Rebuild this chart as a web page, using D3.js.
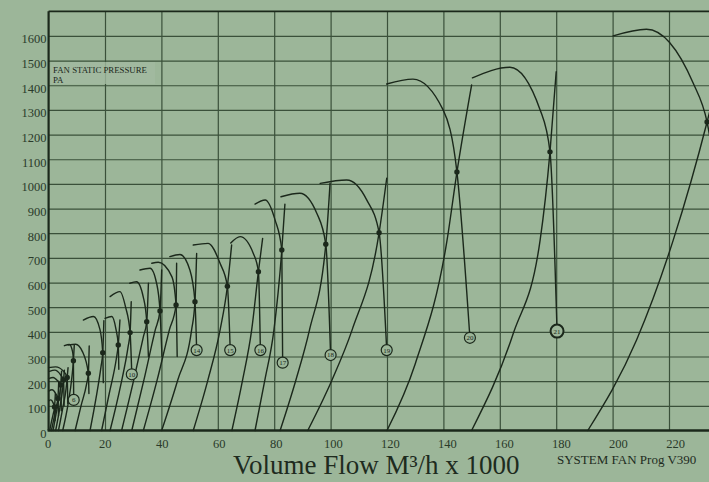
<!DOCTYPE html>
<html><head><meta charset="utf-8">
<script src="https://cdn.jsdelivr.net/npm/d3@7"></script>
<style>html,body{margin:0;padding:0;background:#9cb699;} svg{display:block}</style>
</head><body><svg id="c" width="709" height="482"></svg>
<script>
// ---------- data (flow in m3/h x1000, pressure in Pa) ----------
const xTicks = [0,20,40,60,80,100,120,140,160,180,200,220];
const yTicks = [0,100,200,300,400,500,600,700,800,900,1000,1100,1200,1300,1400,1500,1600];
const fanNo     = [1,2,3,4,5,6,7,8,9,10,11,12,13,14,15,16,17,18,19,20,21,22];
// fan curves: start, peak, knee, operating point, end
const fanStartX = [0.0,0.0,0.0,0.3,0.0,5.6,7.0,12.3,20.0,21.8,28.8,32.4,36.6,43.0,51.3,64.6,73.2,82.4,96.3,119.9,150.3,200.2];
const fanStartP = [120,160,210,240,255,344,347,448,455,543,597,651,678,705,752,760,918,948,1002,1405,1430,1600];
const fanPeakX  = [0.8,1.2,1.6,2.2,2.5,7.4,9.6,15.9,22.4,25.3,31.2,36.0,38.9,46.6,56.6,67.9,76.8,89.1,105.7,129.2,163.6,212.0];
const fanPeakP  = [124,165,215,245,258,349,350,462,462,563,603,658,682,714,759,786,935,962,1016,1425,1473,1627];
const fanKneeX  = [1.6,2.5,3.3,4.3,5.3,8.5,12.0,18.2,23.9,27.3,33.6,38.3,43.7,50.1,60.8,72.6,80.3,95.1,112.8,139.9,174.3,228.6];
const fanKneeP  = [112,150,200,225,240,320,320,410,410,500,540,597,624,651,678,718,854,881,935,1300,1300,1408];
const opX       = [2.1,3.3,4.3,5.3,6.6,8.8,14.1,19.2,24.7,28.9,34.8,39.5,45.2,51.9,63.4,74.4,82.7,98.3,117.2,144.8,177.8,233.5];
const opP       = [95,130,185,205,215,283,232,315,347,397,441,485,509,522,585,644,732,755,802,1048,1130,1251];
const fanEndX   = [2.3,3.5,4.5,5.5,6.8,8.9,14.3,19.4,24.9,29.5,35.4,40.2,45.6,52.5,64.4,75.1,83.0,100.0,119.9,149.4,180.3,240.0];
const fanEndP   = [40,60,80,100,110,124,150,194,248,228,300,300,300,326,326,326,275,306,326,376,403,700];
// system curves: base on the axis, two mid points, operating point, top
const sysBaseX  = [0.4,1.0,1.6,2.5,3.5,5.0,9.4,14.7,18.8,21.8,25.9,29.5,33.6,40.1,51.3,65.0,73.2,82.1,91.9,120.0,150.0,191.2];
const sysM1X    = [1.0,1.9,2.7,3.8,5.0,6.8,11.5,16.8,21.5,25.5,30.2,33.8,38.5,45.8,56.5,68.8,76.7,87.7,100.5,130.0,164.8,208.5];
const sysM1P    = [35,50,70,80,90,100,100,130,150,180,205,205,205,205,205,205,205,205,205,270,394,367];
const sysM2X    = [1.7,2.8,3.8,4.9,6.2,8.3,13.5,18.6,24.0,28.2,33.6,37.8,42.8,50.7,60.8,72.0,79.9,92.5,107.6,141.3,174.3,221.5];
const sysM2P    = [70,100,140,160,170,220,190,260,290,340,380,407,407,407,407,407,407,407,407,772,772,772];
const sysTopX   = [2.4,3.6,4.6,5.6,6.9,9.1,14.4,19.6,25.3,29.3,35.4,40.1,45.4,52.5,64.9,75.9,83.8,99.8,119.9,150.0,180.0,240.0];
const sysTopP   = [150,200,240,245,255,345,343,445,448,522,597,651,678,718,752,779,918,1002,1023,1401,1455,1560];
const circleFans = [6,10,14,15,16,17,18,19,20,21];

// ---------- drawing ----------
const W = 709, H = 482;
const ink = "#1b281b", gridCol = "#3a503a", bg = "#9cb699";
const svg = d3.select("#c");
svg.append("rect").attr("width", W).attr("height", H).attr("fill", bg);

const x = d3.scaleLinear().domain([0, 240]).range([48.6, 48.6 + 240 * 2.82]);
const y = d3.scaleLinear().domain([0, 1700]).range([430.5, 430.5 - 1700 * 0.2466]);
// tick labels sit slightly wider than the grid in the scan
const xLab = d3.scaleLinear().domain([0, 220]).range([47.7, 675]);

// grid via axes
const gx = svg.append("g").attr("transform", `translate(0,${y(0)})`)
  .call(d3.axisBottom(x).tickValues(xTicks.filter(v => v > 0).concat([240])).tickSize(-(y(0) - y(1700))).tickFormat(""));
gx.select(".domain").remove();
gx.selectAll("line").attr("stroke", gridCol).attr("stroke-width", 1.2);

const gy = svg.append("g").attr("transform", `translate(${x(0)},0)`)
  .call(d3.axisLeft(y).tickValues(yTicks.filter(v => v > 0)).tickSize(-(W - x(0))).tickFormat(""));
gy.select(".domain").remove();
gy.selectAll("line").attr("stroke", gridCol).attr("stroke-width", 1.2);

// label box
svg.append("rect").attr("x", 51).attr("y", 62).attr("width", 104).attr("height", 22)
  .attr("fill", "#a2baa0").attr("opacity", 0.8);
svg.append("text").attr("x", 53).attr("y", 72.5).text("FAN STATIC PRESSURE")
  .attr("font-family", "Liberation Serif").attr("font-size", 8.8).attr("fill", ink);
svg.append("text").attr("x", 53).attr("y", 82.5).text("PA")
  .attr("font-family", "Liberation Serif").attr("font-size", 8.8).attr("fill", ink);

// frame
svg.append("line").attr("x1", x(0)).attr("x2", W).attr("y1", y(1700)).attr("y2", y(1700))
  .attr("stroke", ink).attr("stroke-width", 1.8);
svg.append("line").attr("x1", x(0)).attr("x2", x(0)).attr("y1", y(1700)).attr("y2", y(0))
  .attr("stroke", ink).attr("stroke-width", 2.2);
svg.append("line").attr("x1", x(0) - 1).attr("x2", W).attr("y1", y(0)).attr("y2", y(0))
  .attr("stroke", ink).attr("stroke-width", 2.6);

// tick labels via axes
const ax = svg.append("g").attr("transform", `translate(0,${y(0)})`)
  .call(d3.axisBottom(xLab).tickValues(xTicks).tickSize(0).tickPadding(9).tickFormat(d3.format("d")));
ax.select(".domain").remove();
ax.selectAll("text").attr("font-family", "Liberation Serif").attr("font-size", 12.5).attr("fill", "#2a3a2a");

const ay = svg.append("g").attr("transform", `translate(${x(0) - 1},3)`)
  .call(d3.axisLeft(y).tickValues(yTicks).tickSize(0).tickPadding(1).tickFormat(d3.format("d")));
ay.select(".domain").remove();
ay.selectAll("text").attr("font-family", "Liberation Serif").attr("font-size", 12.5).attr("fill", "#2a3a2a");

// curves
const line = d3.line().x(d => x(d[0])).y(d => y(d[1])).curve(d3.curveMonotoneX);
const curves = svg.append("g").attr("fill", "none").attr("stroke", ink).attr("stroke-width", 1.4)
  .attr("stroke-linecap", "round");
fanNo.forEach((n, i) => {
  const fan = [[fanStartX[i], fanStartP[i]], [fanPeakX[i], fanPeakP[i]], [fanKneeX[i], fanKneeP[i]],
               [opX[i], opP[i]], [fanEndX[i], fanEndP[i]]];
  const sys = [[sysBaseX[i], 0], [sysM1X[i], sysM1P[i]], [sysM2X[i], sysM2P[i]],
               [opX[i], opP[i]], [sysTopX[i], sysTopP[i]]];
  curves.append("path").attr("d", line(fan));
  curves.append("path").attr("d", line(sys));
});

// operating points
svg.append("g").selectAll("circle").data(fanNo).join("circle")
  .attr("cx", (n, i) => x(opX[i])).attr("cy", (n, i) => y(opP[i])).attr("r", 2.7).attr("fill", ink);

// end circles with fan numbers
const cg = svg.append("g").selectAll("g").data(circleFans).join("g")
  .attr("transform", n => { const i = fanNo.indexOf(n); return `translate(${x(fanEndX[i])},${y(fanEndP[i])})`; });
cg.append("circle").attr("r", n => n === 21 ? 6.5 : 5.5).attr("fill", bg).attr("stroke", ink)
  .attr("stroke-width", n => n === 21 ? 2 : 1.2);
cg.append("text").text(n => n).attr("text-anchor", "middle").attr("dy", "0.35em")
  .attr("font-family", "Liberation Serif").attr("font-size", 7).attr("fill", ink);

// titles
svg.append("text").attr("x", 233).attr("y", 474).text("Volume Flow M³/h x 1000")
  .attr("font-family", "Liberation Serif").attr("font-size", 27).attr("fill", "#1e2b1e");
svg.append("text").attr("x", 557).attr("y", 463.5).text("SYSTEM FAN Prog V390")
  .attr("font-family", "Liberation Serif").attr("font-size", 13).attr("fill", "#1e2b1e");
</script></body></html>
